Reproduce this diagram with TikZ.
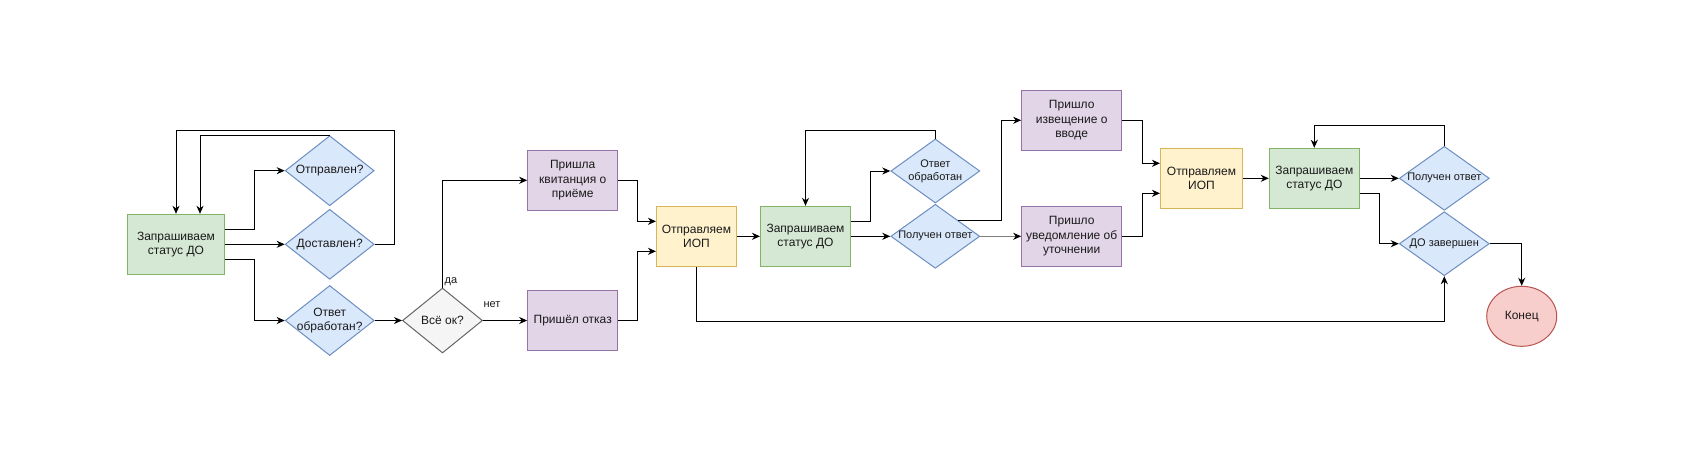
\documentclass[tikz,border=0pt]{standalone}
\usepackage{fontspec}
\setmainfont{Liberation Sans}
\usetikzlibrary{shapes.geometric,arrows.meta}
\definecolor{gfill}{HTML}{D5E8D4}\definecolor{gline}{HTML}{82B366}
\definecolor{bfill}{HTML}{DAE8FC}\definecolor{bline}{HTML}{6C8EBF}
\definecolor{pfill}{HTML}{E1D5E7}\definecolor{pline}{HTML}{9673A6}
\definecolor{yfill}{HTML}{FFF2CC}\definecolor{yline}{HTML}{D6B656}
\definecolor{rfill}{HTML}{F8CECC}\definecolor{rline}{HTML}{B85450}
\definecolor{sfill}{HTML}{F5F5F5}\definecolor{sline}{HTML}{666666}
\definecolor{txt}{HTML}{1A1A1A}
\tikzset{
  base/.style={line width=1pt, align=center, text=txt, inner sep=0pt,
    font=\fontsize{12}{14.4}\selectfont},
  boxg/.style={base, rectangle, draw=gline, fill=gfill, minimum width=90pt, minimum height=60pt},
  boxp/.style={base, rectangle, draw=pline, fill=pfill, minimum width=90pt, minimum height=60pt},
  boxy/.style={base, rectangle, draw=yline, fill=yfill, minimum width=80pt, minimum height=60pt},
  dia/.style={base, diamond, draw=bline, fill=bfill, minimum width=89pt, minimum height=70pt},
  diasm/.style={base, diamond, draw=bline, fill=bfill, minimum width=89pt, minimum height=64pt},
  lbl/.style={align=center, text=txt, inner sep=0pt, font=\fontsize{12}{14.4}\selectfont},
  lblsm/.style={align=center, text=txt, inner sep=0pt, font=\fontsize{11}{13.2}\selectfont},
  arr/.style={line width=1pt, draw=black, -{Stealth[length=8pt,width=7pt,inset=2.5pt]}},
  elabel/.style={text=txt, inner sep=0pt, font=\fontsize{11}{13.2}\selectfont},
}
\begin{document}
\begin{tikzpicture}[x=1pt,y=-1pt]
\useasboundingbox (0,0) rectangle (1681,461);
% nodes
\node[boxg, minimum width=97pt] (q1) at (176,244.3) {Запрашиваем\\статус ДО};
\node[dia, label={[lbl]center:Отправлен?}] (otp) at (329.7,170.7) {};
\node[dia, label={[lbl]center:Доставлен?}] (dost) at (329.7,244.3) {};
\node[dia, label={[lbl]center:Ответ\\обработан?}] (otv1) at (329.7,320.5) {};
\node[base, diamond, draw=sline, fill=sfill, minimum width=80pt, minimum height=65pt,
  label={[lbl]center:Всё ок?}] (ok) at (442.5,320.5) {};
\node[boxp] (kvit) at (572.7,180.3) {Пришла\\квитанция о\\приёме};
\node[boxp] (otk) at (572.7,320.5) {Пришёл отказ};
\node[boxy] (iop1) at (696.5,236.3) {Отправляем\\ИОП};
\node[boxg] (q2) at (805.5,236.3) {Запрашиваем\\статус ДО};
\node[diasm, label={[lblsm]center:Ответ\\обработан}] (otv2) at (935.3,171) {};
\node[diasm, label={[lblsm]center:Получен ответ}] (pol2) at (935.3,236.3) {};
\node[boxp, minimum width=100pt] (izv) at (1071.7,120.3) {Пришло\\извещение о\\вводе};
\node[boxp, minimum width=100pt] (uto) at (1071.7,236.3) {Пришло\\уведомление об\\уточнении};
\node[boxy, minimum width=82pt] (iop2) at (1201.5,178.3) {Отправляем\\ИОП};
\node[boxg] (q3) at (1314.3,178.3) {Запрашиваем\\статус ДО};
\node[diasm, minimum width=90pt, label={[lblsm]center:Получен ответ}] (pol3) at (1444.3,178.3) {};
\node[diasm, minimum width=90pt, label={[lblsm]center:ДО завершен}] (zav) at (1444.3,243.7) {};
\node[base, ellipse, draw=rline, fill=rfill, minimum width=70pt, minimum height=60pt] (end) at (1521.7,316.3) {Конец};
% connectors
\draw[arr] ([yshift=15pt]q1.east) -- ++(29.6,0) |- (otp.west);
\draw[arr] (q1.east) -- (dost.west);
\draw[arr] ([yshift=-15pt]q1.east) -- ++(29.6,0) |- (otv1.west);
\draw[arr] (dost.east) -- ++(20,0) -- ++(0,-114.3) -| (q1.north);
\draw[arr] (otp.north) -| ([xshift=24pt]q1.north);
\draw[arr] (otv1.east) -- (ok.west);
\draw[arr] (ok.north) |- (kvit.west);
\node[elabel, anchor=base west] (da) at ([xshift=2pt,yshift=4pt]ok.north) {да};
\draw[arr] (ok.east) -- (otk.west);
\node[elabel, anchor=base] (net) at ([xshift=9pt,yshift=13.5pt]ok.east) {нет};
\draw[arr] (kvit.east) -- ++(19.6,0) |- ([yshift=15pt]iop1.west);
\draw[arr] (otk.east) -- ++(19.6,0) |- ([yshift=-15pt]iop1.west);
\draw[arr] (iop1.east) -- (q2.west);
\draw[arr] ([yshift=15pt]q2.east) -- ++(19.3,0) |- (otv2.west);
\draw[arr] (q2.east) -- (pol2.west);
\draw[arr] (otv2.north) -- ++(0,-8) -| (q2.north);
\draw[arr] (pol2.north east) -- ++(44,0) |- (izv.west);
\draw[line width=1pt, draw=gray, -{Stealth[length=8pt,width=7pt,inset=2.5pt,color=black]}] (pol2.east) -- (uto.west);
\draw[arr] (izv.east) -- ++(20,0) |- ([yshift=15pt]iop2.west);
\draw[arr] (uto.east) -- ++(20,0) |- ([yshift=-15pt]iop2.west);
\draw[arr] (iop2.east) -- (q3.west);
\draw[arr] (q3.east) -- (pol3.west);
\draw[arr] ([yshift=-15pt]q3.east) -- ++(20,0) |- (zav.west);
\draw[arr] (pol3.north) -- ++(0,-20) -| (q3.north);
\draw[arr] (zav.east) -| (end.north);
\draw[arr] (iop1.south) -- ++(0,54.2) -| (zav.south);
\end{tikzpicture}
\end{document}
